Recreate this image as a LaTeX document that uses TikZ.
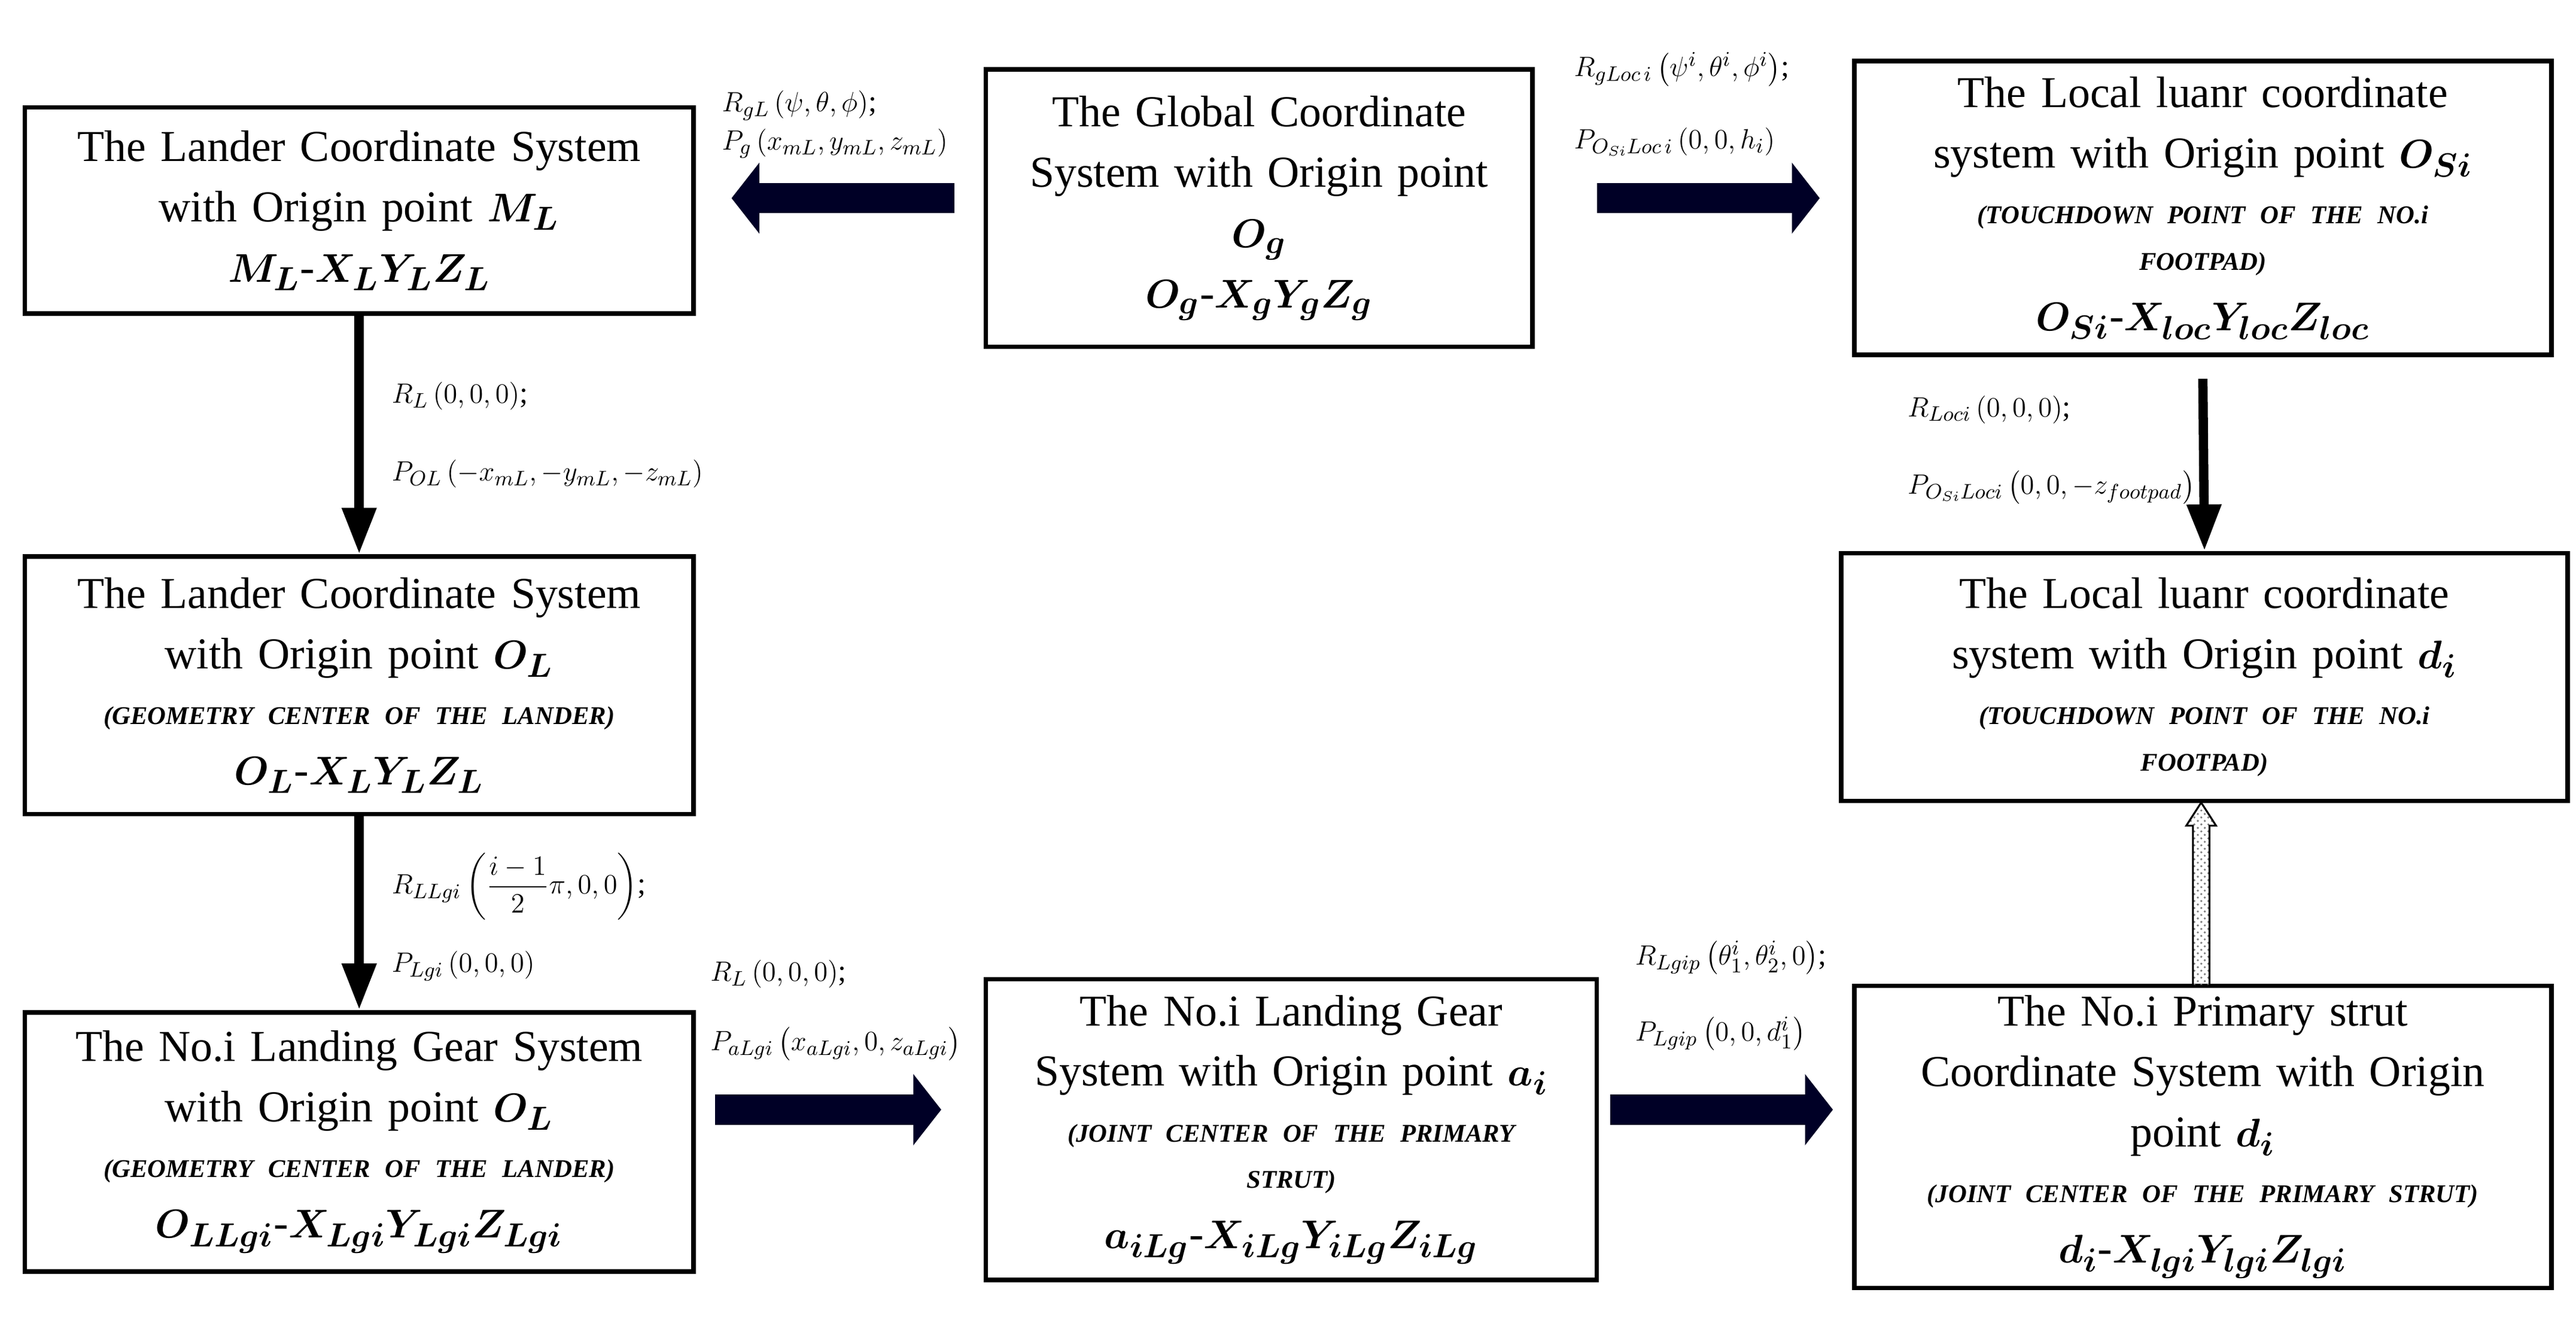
\documentclass[tikz,border=0pt]{standalone}
\usepackage{amsmath}
\usepackage{fontspec}
\setmainfont{Liberation Serif}
\usetikzlibrary{arrows.meta,patterns}
\newcommand{\subt}{\fontsize{11}{15}\selectfont\bfseries\itshape}
\begin{document}
\begin{tikzpicture}[x=0.025cm,y=-0.025cm,
 box/.style={draw,line width=2pt,align=center,inner sep=0pt,font=\fontsize{19}{26}\selectfont},
 lab/.style={anchor=west,font=\fontsize{13}{15}\selectfont,inner sep=0pt},
 thick arr/.style={draw=black!85!blue,line width=13pt,-{Triangle[length=12pt,width=30pt]}},
 thin arr/.style={draw=black,line width=4pt,-{Triangle[length=20pt,width=14pt]}}]
\useasboundingbox (0,0) rectangle (1560,803);
\newcommand{\bx}[5]{\node[box,minimum width={(#3-#1)*0.025cm},minimum height={(#4-#2)*0.025cm},text width={(#3-#1-8)*0.025cm}] (#5) at ({(#1+#3)/2},{(#2+#4)/2})}
\bx{15}{65}{420}{190}{b1}{The Lander Coordinate System\\ with Origin point $\boldsymbol{M_L}$\\ $\boldsymbol{M_L\text{-}X_LY_LZ_L}$};
\bx{597}{42}{928}{210}{b2}{The Global Coordinate\\ System with Origin point\\ $\boldsymbol{O_g}$\\ $\boldsymbol{O_g\text{-}X_gY_gZ_g}$};
\bx{1123}{37}{1545}{215}{b3}{The Local luanr coordinate\\ system with Origin point $\boldsymbol{O_{Si}}$\\[-2pt] {\subt (TOUCHDOWN POINT OF THE NO.i}\\[-6pt] {\subt FOOTPAD)}\\ $\boldsymbol{O_{Si}\text{-}X_{loc}Y_{loc}Z_{loc}}$};
\bx{15}{337}{420}{493}{b4}{The Lander Coordinate System\\ with Origin point $\boldsymbol{O_L}$\\[-2pt] {\subt (GEOMETRY CENTER OF THE LANDER)}\\ $\boldsymbol{O_L\text{-}X_LY_LZ_L}$};
\bx{1115}{335}{1555}{485}{b5}{The Local luanr coordinate\\ system with Origin point $\boldsymbol{d_i}$\\[-2pt] {\subt (TOUCHDOWN POINT OF THE NO.i}\\[-6pt] {\subt FOOTPAD)}};
\bx{15}{613}{420}{770}{b6}{The No.i Landing Gear System\\ with Origin point $\boldsymbol{O_L}$\\[-2pt] {\subt (GEOMETRY CENTER OF THE LANDER)}\\ $\boldsymbol{O_{LLgi}\text{-}X_{Lgi}Y_{Lgi}Z_{Lgi}}$};
\bx{597}{593}{967}{775}{b7}{The No.i Landing Gear\\ System with Origin point $\boldsymbol{a_i}$\\[-2pt] {\subt (JOINT CENTER OF THE PRIMARY}\\[-6pt] {\subt STRUT)}\\ $\boldsymbol{a_{iLg}\text{-}X_{iLg}Y_{iLg}Z_{iLg}}$};
\bx{1123}{597}{1545}{780}{b8}{The No.i Primary strut\\ Coordinate System with Origin\\ point $\boldsymbol{d_i}$\\[-2pt] {\subt (JOINT CENTER OF THE PRIMARY STRUT)}\\ $\boldsymbol{d_i\text{-}X_{lgi}Y_{lgi}Z_{lgi}}$};
% arrows
\draw[thick arr] (578,120) coordinate (c1) -- (443,120);
\draw[thick arr] (967,120) coordinate (c2) -- (1102,120);
\draw[thin arr] (b1.south) -- (b4.north);
\draw[thin arr] (b4.south) -- (b6.north);
\draw[thin arr] (b3.south) ++(0,13) -- (b5.north);
\draw[thick arr] (433,672) -- (570,672);
\draw[thick arr] (975,672) -- (1110,672);
\draw[line width=0.8pt,pattern=crosshatch dots,pattern color=gray]
 (1328,597) -- (1328,500) -- (1324,500) -- (1333,486) -- (1342,500) -- (1338,500) -- (1338,597) -- cycle;
% labels
\node[lab] at (437,64) {$R_{gL}\left(\psi,\theta,\phi\right)$;};
\node[lab] at (437,87) {$P_g\left(x_{mL},y_{mL},z_{mL}\right)$};
\node[lab] at (953,42) {$R_{gLoc\,i}\left(\psi^i,\theta^i,\phi^i\right)$;};
\node[lab] at (953,86) {$P_{O_{Si}Loc\,i}\left(0,0,h_i\right)$};
\node[lab] at (237,240) {$R_L\left(0,0,0\right)$;};
\node[lab] at (237,287) {$P_{OL}\left(-x_{mL},-y_{mL},-z_{mL}\right)$};
\node[lab] at (1155,248) {$R_{Loci}\left(0,0,0\right)$;};
\node[lab] at (1155,295) {$P_{O_{Si}Loci}\left(0,0,-z_{footpad}\right)$};
\node[lab] at (237,537) {$R_{LLgi}\left(\dfrac{i-1}{2}\pi,0,0\right)$;};
\node[lab] at (237,585) {$P_{Lgi}\left(0,0,0\right)$};
\node[lab] at (430,590) {$R_L\left(0,0,0\right)$;};
\node[lab] at (430,632) {$P_{aLgi}\left(x_{aLgi},0,z_{aLgi}\right)$};
\node[lab] at (990,580) {$R_{Lgip}\left(\theta_1^i,\theta_2^i,0\right)$;};
\node[lab] at (990,626) {$P_{Lgip}\left(0,0,d_1^i\right)$};
\end{tikzpicture}
\end{document}
